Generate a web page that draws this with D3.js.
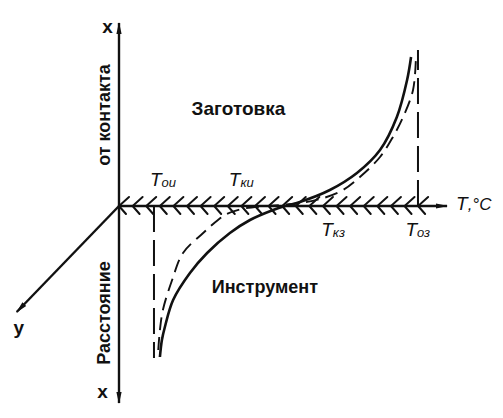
<!DOCTYPE html>
<html><head><meta charset="utf-8">
<script src="https://cdn.jsdelivr.net/npm/d3@7"></script>
<style>html,body{margin:0;padding:0;background:#fff;}svg{display:block;}</style>
</head><body>
<script>
// ---- data (T in arbitrary units along the temperature axis, x = distance from contact) ----
const solidCurve = [[12.4,-75.5],[13.0,-67],[13.9,-60.5],[16.4,-47],[21.5,-33.5],[26.7,-23.5],[33.6,-13.5],[39.7,-7],[46.7,-2],[50.3,0],[54.8,2],[63.9,8],[72.1,16.5],[79.1,28],[84.2,44.5],[87.3,63],[88.5,74.5]];
const dashedCurve = [[11.9,-72],[12.4,-62],[13.3,-52],[16.1,-37],[19.4,-23.5],[25.5,-13.5],[30,-7],[32.7,-4],[38,-1.2],[45,0],[55,1.5],[62,4],[67.9,8],[73,14.5],[79.1,24.5],[83,34.5],[86.1,44.5],[89.1,58],[90,75]];
const markerT = ["Tои","Tки","Tкз","Tоз"];
const markerVal = [10.6, 34.5, 62.5, 88];
const markerSide = ["up","up","down","down"];
const dropLinesT = [10.6, 90.6];
const dropLinesX = [-76, 78];
const axisTMax = 99.4;
const axisXMax = 91.5, axisXMin = -98.5;
const depthEnd = [-31, -53];
const regionLabels = ["Заготовка","Инструмент"];
const regionPos = [[36.2, 45.5],[44.2, -43.5]];

const W = 503, H = 418;
const svg = d3.select("body").append("svg").attr("width", W).attr("height", H);
const xs = d3.scaleLinear().domain([0,100]).range([119,449]);
const ys = d3.scaleLinear().domain([-100,100]).range([406,6]);

const defs = svg.append("defs");
defs.append("marker").attr("id","arr").attr("viewBox","0 -4 12 8").attr("refX",11).attr("refY",0)
  .attr("markerWidth",12).attr("markerHeight",8).attr("markerUnits","userSpaceOnUse").attr("orient","auto")
  .append("path").attr("d","M0,-2.6L12,0L0,2.6Z").attr("fill","#111");

const ink = "#111";
// vertical axis
svg.append("line").attr("x1",xs(0)).attr("y1",ys(0)).attr("x2",xs(0)).attr("y2",ys(axisXMax))
  .attr("stroke",ink).attr("stroke-width",2.4).attr("marker-end","url(#arr)");
svg.append("line").attr("x1",xs(0)).attr("y1",ys(0)).attr("x2",xs(0)).attr("y2",ys(axisXMin))
  .attr("stroke",ink).attr("stroke-width",2.4).attr("marker-end","url(#arr)");
// horizontal axis
svg.append("line").attr("x1",xs(0)).attr("y1",ys(0)).attr("x2",xs(axisTMax)).attr("y2",ys(0))
  .attr("stroke",ink).attr("stroke-width",2.6).attr("marker-end","url(#arr)");
// depth axis
svg.append("line").attr("x1",xs(0)).attr("y1",ys(0)).attr("x2",xs(depthEnd[0])).attr("y2",ys(depthEnd[1]))
  .attr("stroke",ink).attr("stroke-width",2.4).attr("marker-end","url(#arr)");

// hatching (chevrons along the contact line)
const hatchStep = 4.12;
const hatchPos = d3.range(0, 91.5, hatchStep);
const hg = svg.append("g").attr("stroke",ink).attr("stroke-width",2).attr("fill","none").attr("stroke-linecap","round");
hatchPos.forEach(t => {
  const x0 = xs(t), y0 = ys(0);
  hg.append("path").attr("d",`M${x0+10},${y0-9}L${x0},${y0}L${x0+7},${y0+8}`);
});

// curves
const line = d3.line().x(d=>xs(d[0])).y(d=>ys(d[1])).curve(d3.curveCatmullRom.alpha(0.5));
svg.append("path").datum(solidCurve).attr("d",line).attr("fill","none").attr("stroke",ink).attr("stroke-width",2.6);
svg.append("path").datum(dashedCurve).attr("d",line).attr("fill","none").attr("stroke",ink).attr("stroke-width",1.9).attr("stroke-dasharray","13,7");

// drop lines
dropLinesT.forEach((t,i)=>{
  svg.append("line").attr("x1",xs(t)).attr("x2",xs(t)).attr("y1",ys(0)).attr("y2",ys(dropLinesX[i]))
    .attr("stroke",ink).attr("stroke-width",2).attr("stroke-dasharray","26,8");
});

// T markers
const it = "'Liberation Sans', Arial, sans-serif";
markerT.forEach((lab,i)=>{
  const x = xs(markerVal[i]) - 4;
  const y = markerSide[i]==="up" ? ys(0)-20 : ys(0)+30;
  const t = svg.append("text").attr("x",x).attr("y",y).attr("font-family",it).attr("font-style","italic").attr("fill",ink);
  t.append("tspan").attr("font-size",19).text(lab[0]);
  t.append("tspan").attr("font-size",13).attr("dy",1).text(lab.slice(1));
});
// axis unit label
const tl = svg.append("text").attr("x",xs(axisTMax)+9).attr("y",ys(0)+4).attr("font-family",it).attr("font-style","italic").attr("fill",ink);
tl.append("tspan").attr("font-size",19).text("T");
tl.append("tspan").attr("font-size",17).text(",°C");

// bold labels
const bf = "'Liberation Sans', Arial, sans-serif";
regionLabels.forEach((lab,i)=>{
  svg.append("text").attr("x",xs(regionPos[i][0])).attr("y",ys(regionPos[i][1])).attr("text-anchor","middle")
    .attr("font-family",bf).attr("font-weight","bold").attr("font-size",i===0?19:18).attr("fill",ink).text(lab);
});
svg.append("text").attr("transform",`translate(${xs(0)-9},${ys(45.5)}) rotate(-90)`).attr("text-anchor","middle")
  .attr("font-family",bf).attr("font-weight","bold").attr("font-size",18).attr("fill",ink).text("от контакта");
svg.append("text").attr("transform",`translate(${xs(0)-9},${ys(-53.5)}) rotate(-90)`).attr("text-anchor","middle")
  .attr("font-family",bf).attr("font-weight","bold").attr("font-size",18).attr("fill",ink).text("Расстояние");
svg.append("text").attr("x",xs(0)-11.5).attr("y",ys(axisXMax)+10).attr("text-anchor","middle")
  .attr("font-family",bf).attr("font-weight","bold").attr("font-size",19).attr("fill",ink).text("х");
svg.append("text").attr("x",xs(0)-16.5).attr("y",ys(axisXMin)-5).attr("text-anchor","middle")
  .attr("font-family",bf).attr("font-weight","bold").attr("font-size",19).attr("fill",ink).text("х");
svg.append("text").attr("x",xs(depthEnd[0])+2).attr("y",ys(depthEnd[1])+22).attr("text-anchor","middle")
  .attr("font-family",bf).attr("font-weight","bold").attr("font-size",19).attr("fill",ink).text("у");
</script>
</body></html>
